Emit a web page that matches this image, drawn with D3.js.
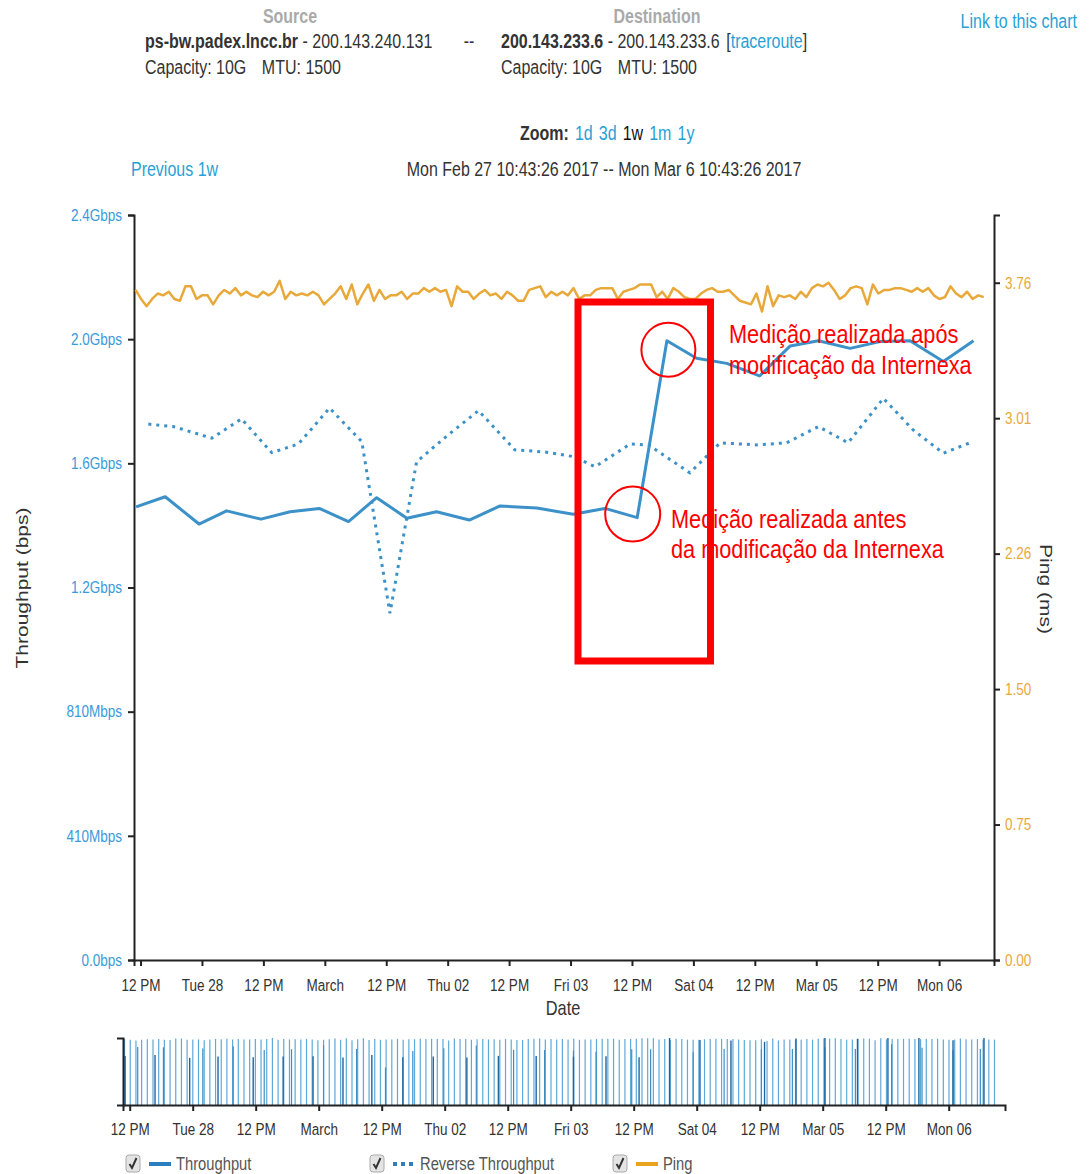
<!DOCTYPE html>
<html>
<head>
<meta charset="utf-8">
<script src="https://cdn.jsdelivr.net/npm/d3@7"></script>
<style>
  body { margin: 0; background: #fff; }
  svg text { font-family: "Liberation Sans", Arial, sans-serif; }
</style>
</head>
<body>
<svg id="chart" width="1089" height="1174"></svg>
<script>
// time window of the chart
const range_start = new Date(2017, 1, 27, 10, 43, 26);
const range_end = new Date(2017, 2, 6, 10, 43, 26);

// throughput tests (hours after range_start, Gbps)
const throughput_hours = [0.4, 6.1, 12.7, 18.1, 24.8, 30.5, 36.2, 41.9, 47.4, 53.3, 59.1, 65.5, 71.5, 78.7,
  85.8, 92.0, 98.3, 104.1, 109.9, 115.8, 122.2, 128.2, 133.7, 139.9, 145.7, 151.6, 158.1, 164.0];
const throughput_gbps = [1.478, 1.511, 1.422, 1.465, 1.438, 1.462, 1.473, 1.430, 1.508, 1.441, 1.462, 1.435, 1.481, 1.474,
  1.454, 1.473, 1.443, 2.020, 1.963, 1.946, 1.905, 2.003, 2.020, 1.995, 2.017, 2.020, 1.952, 2.020];

// reverse direction tests
const reverse_hours = [2.8, 7.7, 15.2, 21.0, 26.9, 32.1, 38.2, 44.5, 50.0, 55.2, 61.1, 67.3, 74.4, 80.3,
  85.8, 90.1, 96.9, 100.5, 108.6, 114.5, 121.6, 127.5, 133.7, 139.5, 146.4, 152.2, 158.1, 163.3];
const reverse_gbps = [1.748, 1.740, 1.702, 1.765, 1.655, 1.683, 1.800, 1.691, 1.131, 1.625, 1.709, 1.792, 1.664, 1.657,
  1.642, 1.609, 1.683, 1.680, 1.589, 1.687, 1.680, 1.687, 1.740, 1.687, 1.832, 1.729, 1.653, 1.687];

// ping, roughly one sample per hour
const ping_first_hour = 0.3;
const ping_step_hours = 1.083;
const ping_ms = [
  3.72, 3.67, 3.63, 3.67, 3.70, 3.69, 3.71, 3.67, 3.66, 3.74, 3.74, 3.67, 3.69, 3.69, 3.64, 3.69, 3.72, 3.70, 3.73, 3.69,
  3.71, 3.69, 3.68, 3.71, 3.69, 3.71, 3.77, 3.67, 3.71, 3.69, 3.70, 3.69, 3.71, 3.69, 3.64, 3.67, 3.70, 3.74, 3.67, 3.75,
  3.64, 3.70, 3.75, 3.66, 3.72, 3.67, 3.69, 3.69, 3.71, 3.67, 3.70, 3.70, 3.73, 3.71, 3.73, 3.71, 3.72, 3.63, 3.74, 3.71,
  3.71, 3.67, 3.70, 3.72, 3.69, 3.70, 3.67, 3.71, 3.69, 3.66, 3.66, 3.72, 3.73, 3.74, 3.68, 3.71, 3.69, 3.71, 3.69, 3.73,
  3.67, 3.69, 3.69, 3.72, 3.73, 3.73, 3.73, 3.67, 3.71, 3.72, 3.73, 3.75, 3.75, 3.75, 3.68, 3.71, 3.67, 3.73, 3.71, 3.68,
  3.67, 3.67, 3.70, 3.72, 3.73, 3.71, 3.71, 3.72, 3.69, 3.66, 3.65, 3.64, 3.70, 3.60, 3.74, 3.63, 3.69, 3.68, 3.69, 3.67,
  3.71, 3.68, 3.73, 3.75, 3.74, 3.76, 3.72, 3.67, 3.69, 3.73, 3.74, 3.73, 3.64, 3.75, 3.70, 3.72, 3.72, 3.73, 3.73, 3.72,
  3.71, 3.73, 3.71, 3.73, 3.69, 3.67, 3.68, 3.74, 3.70, 3.68, 3.71, 3.67, 3.69, 3.68];

// axes
const throughput_top = 2.43;
const throughput_ticks = [0, 0.405, 0.81, 1.215, 1.62, 2.025, 2.43];
const throughput_tick_labels = ["0.0bps", "410Mbps", "810Mbps", "1.2Gbps", "1.6Gbps", "2.0Gbps", "2.4Gbps"];
const ping_top = 4.136;
const ping_ticks = [0, 0.752, 1.504, 2.256, 3.008, 3.76];
const ping_tick_labels = ["0.00", "0.75", "1.50", "2.26", "3.01", "3.76"];

// legend
const legend_items = ["Throughput", "Reverse Throughput", "Ping"];

const blue = "#3b91c8", tick_blue = "#3a9ad9", link_blue = "#2a9fd6", orange = "#e9a83a", dark = "#333";
const narrow = 0.82;   // the page text is set in a narrow face

let svg = d3.select("#chart");
let to_date = h => new Date(+range_start + h * 3600e3);

// squeeze text horizontally around its own x
function squeeze(sel) {
  sel.each(function() {
    let t = d3.select(this);
    let x0 = +t.attr("x") || 0;
    let prev = t.attr("transform") || "";
    t.attr("transform", prev + " matrix(" + narrow + ",0,0,1," + (x0 * (1 - narrow)) + ",0)");
  });
}

let throughput = throughput_hours.map((h, i) => ({date: to_date(h), value: throughput_gbps[i]}));
let reverse = reverse_hours.map((h, i) => ({date: to_date(h), value: reverse_gbps[i]}));
let ping = ping_ms.map((v, i) => ({date: to_date(ping_first_hour + i * ping_step_hours), value: v}));

// ---- header
let header = svg.append("g").attr("class", "header").attr("font-size", 19.5);
header.append("text").attr("x", 290).attr("y", 23).attr("text-anchor", "middle")
  .attr("font-weight", "bold").attr("fill", "#aaa").text("Source");
header.append("text").attr("x", 657).attr("y", 23).attr("text-anchor", "middle")
  .attr("font-weight", "bold").attr("fill", "#aaa").text("Destination");

let src = header.append("text").attr("x", 145).attr("y", 48).attr("fill", dark);
src.append("tspan").attr("font-weight", "bold").text("ps-bw.padex.lncc.br");
src.append("tspan").text(" - 200.143.240.131");
header.append("text").attr("x", 469).attr("y", 48).attr("text-anchor", "middle").attr("fill", dark).text("--");
let dst = header.append("text").attr("x", 501).attr("y", 48).attr("fill", dark);
dst.append("tspan").attr("font-weight", "bold").text("200.143.233.6");
dst.append("tspan").text(" - 200.143.233.6");
dst.append("tspan").attr("dx", 8).text("[");
dst.append("tspan").attr("fill", link_blue).text("traceroute");
dst.append("tspan").text("]");

[145, 501].forEach(x => {
  let t = header.append("text").attr("x", x).attr("y", 74).attr("fill", dark);
  t.append("tspan").text("Capacity: 10G");
  t.append("tspan").attr("dx", 19).text("MTU: 1500");
});

header.append("text").attr("x", 1077).attr("y", 28).attr("text-anchor", "end")
  .attr("fill", link_blue).text("Link to this chart");

let zoom = header.append("text").attr("x", 520).attr("y", 140).attr("fill", dark);
zoom.append("tspan").attr("font-weight", "bold").text("Zoom:");
[["1d", link_blue], ["3d", link_blue], ["1w", "#111"], ["1m", link_blue], ["1y", link_blue]].forEach(z => {
  zoom.append("tspan").attr("dx", 2).attr("fill", z[1]).text(" " + z[0]);
});

header.append("text").attr("x", 131).attr("y", 176).attr("fill", link_blue).text("Previous 1w");
header.append("text").attr("x", 604).attr("y", 176).attr("text-anchor", "middle").attr("fill", dark)
  .text("Mon Feb 27 10:43:26 2017 -- Mon Mar 6 10:43:26 2017");
squeeze(header.selectAll("text"));

// ---- main chart
let x = d3.scaleTime().domain([range_start, range_end]).range([134, 994]);
let y = d3.scaleLinear().domain([0, throughput_top]).range([960, 215]);
let y_ping = d3.scaleLinear().domain([0, ping_top]).range([960, 215]);

let x_axis = svg.append("g").attr("transform", "translate(0,960)")
  .call(d3.axisBottom(x).ticks(d3.timeHour.every(12)).tickSizeOuter(6).tickPadding(13));
let y_axis = svg.append("g").attr("transform", "translate(134,0)")
  .call(d3.axisLeft(y).tickValues(throughput_ticks).tickFormat((d, i) => throughput_tick_labels[i]).tickPadding(6));
let p_axis = svg.append("g").attr("transform", "translate(994,0)")
  .call(d3.axisRight(y_ping).tickValues(ping_ticks).tickFormat((d, i) => ping_tick_labels[i]).tickPadding(5));

[x_axis, y_axis, p_axis].forEach(a => {
  a.selectAll("path, line").attr("stroke", "#222").attr("stroke-width", 2);
  a.selectAll("text").attr("font-size", 16.5).attr("font-family", null);
  squeeze(a.selectAll("text"));
});
x_axis.selectAll("text").attr("fill", dark);
y_axis.selectAll("text").attr("fill", tick_blue);
p_axis.selectAll("text").attr("fill", orange);

svg.append("text").attr("transform", "translate(28,588) rotate(-90) scale(1," + narrow + ")")
  .attr("text-anchor", "middle").attr("font-size", 21).attr("fill", dark).text("Throughput (bps)");
svg.append("text").attr("transform", "translate(1040,589) rotate(90) scale(1," + narrow + ")")
  .attr("text-anchor", "middle").attr("font-size", 21).attr("fill", dark).text("Ping (ms)");
svg.append("text").attr("x", 563).attr("y", 1015).attr("text-anchor", "middle")
  .attr("font-size", 20).attr("fill", dark).text("Date").call(squeeze);

let line = d3.line().x(d => x(d.date)).y(d => y(d.value));
let ping_line = d3.line().x(d => x(d.date)).y(d => y_ping(d.value));

svg.append("path").datum(ping).attr("d", ping_line)
  .attr("fill", "none").attr("stroke", orange).attr("stroke-width", 2.5).attr("stroke-linejoin", "round");
svg.append("path").datum(reverse).attr("d", line)
  .attr("fill", "none").attr("stroke", blue).attr("stroke-width", 3).attr("stroke-dasharray", "3,5");
svg.append("path").datum(throughput).attr("d", line)
  .attr("fill", "none").attr("stroke", blue).attr("stroke-width", 3).attr("stroke-linejoin", "round");

// ---- red annotations
let notes = svg.append("g").attr("class", "notes");
notes.append("rect").attr("x", 578).attr("y", 302).attr("width", 132.5).attr("height", 359)
  .attr("fill", "none").attr("stroke", "#ff0000").attr("stroke-width", 7);
notes.append("circle").attr("cx", x(throughput[17].date) + 1.5).attr("cy", y(throughput[17].value) + 9).attr("r", 27)
  .attr("fill", "none").attr("stroke", "#ff0000").attr("stroke-width", 2);
notes.append("circle").attr("cx", x(throughput[16].date) - 4.5).attr("cy", y(throughput[16].value) - 3.5).attr("r", 27.5)
  .attr("fill", "none").attr("stroke", "#ff0000").attr("stroke-width", 2);
[[729, 343, "Medição realizada após"], [729, 374, "modificação da Internexa"],
 [671, 528, "Medição realizada antes"], [671, 558, "da modificação da Internexa"]].forEach(n => {
  notes.append("text").attr("x", n[0]).attr("y", n[1]).attr("font-size", 26.5).attr("fill", "#ff0000").text(n[2]);
});
squeeze(notes.selectAll("text"));

// ---- context (brush) chart
let x2 = d3.scaleTime().domain([range_start, range_end]).range([123, 1005]);
let y2_ping = d3.scaleLinear().domain([0, d3.max(ping_ms)]).range([1105, 1038]);
let y2_tput = d3.scaleLinear().domain([0, d3.max(throughput_gbps)]).range([1105, 1038]);

let bars = svg.append("g").attr("class", "context_bars");
bars.selectAll(".ping_bar").data(ping).enter().append("line")
  .attr("x1", d => x2(d.date)).attr("x2", d => x2(d.date))
  .attr("y1", 1105).attr("y2", d => y2_ping(d.value))
  .attr("stroke", "#5ea8da").attr("stroke-width", 1.2);
bars.selectAll(".rev_bar").data(reverse).enter().append("line")
  .attr("x1", d => x2(d.date)).attr("x2", d => x2(d.date))
  .attr("y1", 1105).attr("y2", d => y2_tput(d.value))
  .attr("stroke", "#3d8cc4").attr("stroke-width", 1.2);
bars.selectAll(".tput_bar").data(throughput).enter().append("line")
  .attr("x1", d => x2(d.date)).attr("x2", d => x2(d.date))
  .attr("y1", 1105).attr("y2", d => y2_tput(d.value))
  .attr("stroke", "#1f66a0").attr("stroke-width", 1.4);

let x2_axis = svg.append("g").attr("transform", "translate(0,1105)")
  .call(d3.axisBottom(x2).ticks(d3.timeHour.every(12)).tickSizeOuter(6).tickPadding(12));
let y2_axis = svg.append("g").attr("transform", "translate(123,0)")
  .call(d3.axisLeft(y2_ping).tickValues([]).tickSizeOuter(6));
[x2_axis, y2_axis].forEach(a => a.selectAll("path, line").attr("stroke", "#222").attr("stroke-width", 2));
x2_axis.selectAll("text").attr("font-size", 16.5).attr("font-family", null).attr("fill", dark);
squeeze(x2_axis.selectAll("text"));

// ---- legend
let legend = svg.append("g").attr("class", "legend");
let legend_x = [126, 370, 613];
legend_items.forEach((name, i) => {
  let g = legend.append("g").attr("transform", "translate(" + legend_x[i] + ",1155)");
  g.append("rect").attr("width", 14).attr("height", 17).attr("rx", 3)
    .attr("fill", "#e4e4e4").attr("stroke", "#aaa");
  g.append("path").attr("d", "M3.5,9 L6,13 L10.5,3").attr("fill", "none")
    .attr("stroke", "#333").attr("stroke-width", 2);
  let sw = g.append("line").attr("x1", 23).attr("x2", 45).attr("y1", 9).attr("y2", 9).attr("stroke-width", 4);
  if (i === 0) sw.attr("stroke", "#2a7fc0");
  if (i === 1) sw.attr("stroke", "#2a7fc0").attr("stroke-dasharray", "4,4");
  if (i === 2) sw.attr("stroke", "#e8a31c");
  g.append("text").attr("x", 50).attr("y", 15).attr("font-size", 18).attr("fill", "#555").text(name).call(squeeze);
});
</script>
</body>
</html>
